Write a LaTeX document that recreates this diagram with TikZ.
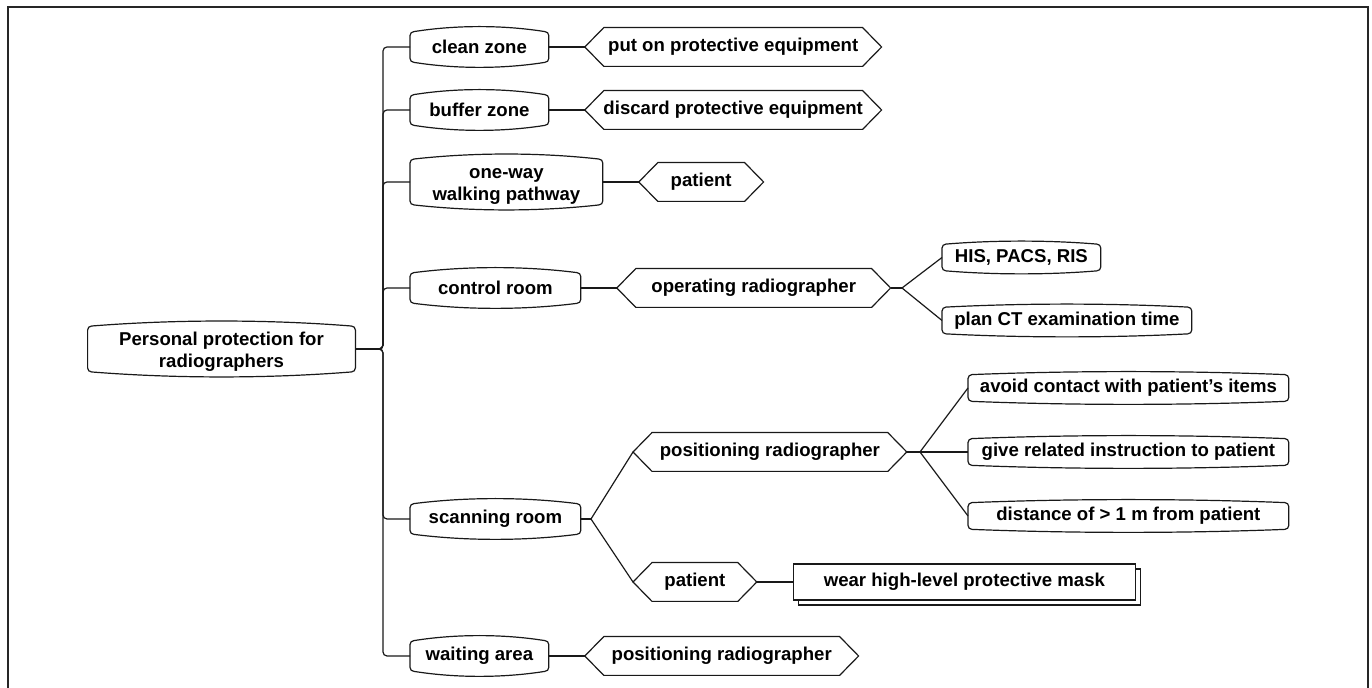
\documentclass[tikz,border=0pt]{standalone}
\usepackage{fontspec}
\setmainfont{Liberation Sans}
\usetikzlibrary{positioning, calc, shadows}

\begin{document}
\begin{tikzpicture}[
			x=0.5pt, y=0.5pt,
			node distance = 18pt,
			every node/.style = {
				font=\bfseries\fontsize{9.3}{11}\selectfont,
				align=center,
				inner sep=0pt
			},
			link/.style = {draw=black!90, line width=0.6pt},
			pill/.style = {rectangle, minimum height=15pt},
			smallpill/.style = {rectangle, minimum height=13pt},
			hexa/.style = {rectangle, minimum height=19pt},
			maskbox/.style = {rectangle, draw=black!90, line width=0.6pt, fill=white,
				minimum width=171pt, minimum height=18pt,
				copy shadow={shadow xshift=2.5pt, shadow yshift=-2.5pt}}
			]
			\useasboundingbox (0,0) rectangle (1372,688);
			\draw[line width=0.8pt, black!85] (8,-4) -- (8,681) -- (1368,681) -- (1368,-4);
			
			% root and first level
			\node[pill, minimum width=133.5pt] (root) at (221.5,339) {\rule{0pt}{9.6pt}Personal protection for\\radiographers};
			\node[pill, minimum width=69pt, anchor=west] (clean) at (410,641) {clean zone};
			\node[pill, minimum width=69pt, anchor=west] (buffer) at (410,578) {buffer zone};
			\node[pill, minimum width=96pt, anchor=west] (oneway) at (410,506) {\rule{0pt}{9.6pt}one-way\\walking pathway};
			\node[pill, minimum width=85pt, anchor=west] (control) at (410,400) {control room};
			\node[pill, minimum width=85pt, anchor=west] (scan) at (410,169) {scanning room};
			\node[pill, minimum width=69pt, anchor=west] (wait) at (410,32) {waiting area};
			
			% second level
			\node[hexa, minimum width=148pt, right=of clean] (puton) {put on protective equipment};
			\node[hexa, minimum width=148pt, right=of buffer] (discard) {discard protective equipment};
			\node[hexa, minimum width=62pt, right=of oneway] (walkpat) {patient};
			\node[hexa, minimum width=136.5pt, right=of control] (operate) {operating radiographer};
			\node[hexa, minimum width=136.5pt, anchor=west] (scanpos) at (633,236) {positioning radiographer};
			\node[hexa, minimum width=61.5pt, anchor=west] (scanpat) at (633,106) {patient};
			\node[hexa, minimum width=136.5pt, right=of wait] (waitpos) {positioning radiographer};
			\node[maskbox, right=of scanpat] (mask) {wear high-level protective mask};
			
			% third level
			\node[smallpill, minimum width=79pt, anchor=west] (his) at (942,430.5) {HIS, PACS, RIS};
			\node[smallpill, minimum width=124.5pt, anchor=west] (plan) at (942,367.5) {plan CT examination time};
			\node[smallpill, minimum width=160pt, anchor=west] (avoid) at (968,300) {avoid contact with patient’s items};
			\node[smallpill, minimum width=160pt, anchor=west] (give) at (968,236) {give related instruction to patient};
			\node[smallpill, minimum width=160pt, anchor=west] (dist) at (968,172) {distance of > 1 m from patient};
			
			\coordinate (trunk) at (383,339);
			\coordinate (j1) at (902,400);
			\coordinate (j2) at (591,169);
			\coordinate (j3) at (920,236);
			
			% outlines
			\foreach \nd/\bg in {root/5, clean/5, buffer/5, oneway/5, control/5, scan/5, wait/5, his/3, plan/3, avoid/3, give/3, dist/3}
			\draw[link] ($(\nd.north west)+(0,-4)$) -- ($(\nd.south west)+(0,4)$)
			to[out=-90,in=180] ($(\nd.south west)+(4,0)$)
			.. controls ($(\nd.south west)!.33!(\nd.south east)+(0,-1.33*\bg)$) and ($(\nd.south west)!.67!(\nd.south east)+(0,-1.33*\bg)$) .. ($(\nd.south east)+(-4,0)$)
			to[out=0,in=-90] ($(\nd.south east)+(0,4)$) -- ($(\nd.north east)+(0,-4)$)
			to[out=90,in=0] ($(\nd.north east)+(-4,0)$)
			.. controls ($(\nd.north west)!.67!(\nd.north east)+(0,1.33*\bg)$) and ($(\nd.north west)!.33!(\nd.north east)+(0,1.33*\bg)$) .. ($(\nd.north west)+(4,0)$)
			to[out=180,in=90] ($(\nd.north west)+(0,-4)$) -- cycle;
			
			\foreach \nd in {puton, discard, walkpat, operate, scanpos, scanpat, waitpos}
			\draw[link] (\nd.west) -- ($(\nd.north west)+(19,0)$) -- ($(\nd.north east)+(-19,0)$) -- (\nd.east)
			-- ($(\nd.south east)+(-19,0)$) -- ($(\nd.south west)+(19,0)$) -- cycle;
			
			% connectors
			\foreach \m in {clean, buffer, oneway, control, scan, wait}
			\draw[link, rounded corners=2pt] (root.east) -- (trunk) |- (\m.west);
			\foreach \a/\b in {clean/puton, buffer/discard, oneway/walkpat, control/operate, wait/waitpos, scanpat/mask}
			\draw[link] (\a.east) -- (\b.west);
			\draw[link] (operate.east) -- (j1);
			\foreach \b in {his, plan} \draw[link] (j1) -- (\b.west);
			\draw[link] (scan.east) -- (j2);
			\foreach \b in {scanpos, scanpat} \draw[link] (j2) -- (\b.west);
			\draw[link] (scanpos.east) -- (j3);
			\foreach \b in {avoid, give, dist} \draw[link] (j3) -- (\b.west);
			
		\end{tikzpicture}
\end{document}
